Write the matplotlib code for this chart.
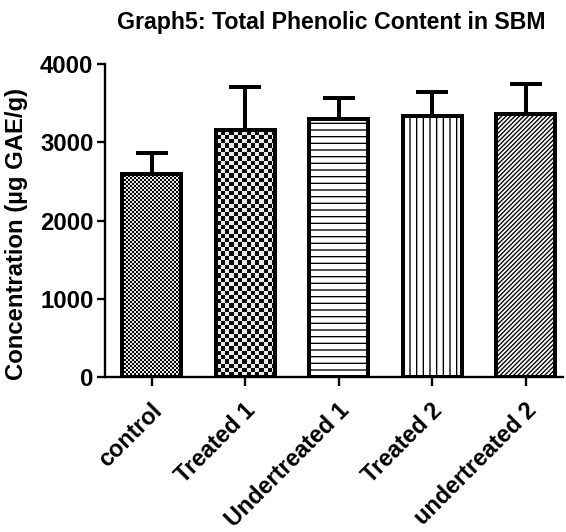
import numpy as np
import matplotlib
matplotlib.use('Agg')
import matplotlib.pyplot as plt
from matplotlib.transforms import ScaledTranslation

groups = ['control', 'Treated 1', 'Undertreated 1', 'Treated 2', 'undertreated 2']
means = [2590, 3160, 3300, 3330, 3360]
sems = [270, 545, 270, 310, 380]
# None -> filled with a checker image instead of a hatch
hatches = [None, None, '--', '||', '//////']
checker_cell = [2.0, 4.3, None, None, None]   # checker square size, pixels

DPI = 80
plt.rcParams['font.family'] = ['Liberation Sans', 'DejaVu Sans']
plt.rcParams['font.weight'] = 'bold'
plt.rcParams['hatch.linewidth'] = 1.2
plt.rcParams['hatch.color'] = 'black'

fig = plt.figure(figsize=(566 / DPI, 532 / DPI), dpi=DPI)
ax = fig.add_axes([105 / 566, 155 / 532, 458 / 566, 313 / 532])

x = np.arange(len(groups))
width = 0.63
edge_lw = 3.6

ax.set_xlim(-0.5, 4.4)
ax.set_ylim(0, 4000)

# error bars (upper only), drawn behind the bars
ax.errorbar(x, means, yerr=[np.zeros(len(sems)), sems], fmt='none',
            ecolor='black', elinewidth=3.6, capsize=14.8, capthick=3.6,
            zorder=1)

bars = ax.bar(x, means, width, facecolor='white', edgecolor='none',
              linewidth=0, zorder=2)
for bar, h in zip(bars, hatches):
    if h:
        bar.set_hatch(h)
        bar.set_edgecolor('black')
        bar.set_linewidth(0)

# checker-pattern fills
for bar, cell in zip(bars, checker_cell):
    if cell is None:
        continue
    x0, y0 = bar.get_x(), bar.get_y()
    x1, y1 = x0 + bar.get_width(), y0 + bar.get_height()
    p0 = ax.transData.transform((x0, y0))
    p1 = ax.transData.transform((x1, y1))
    nx = int(round(p1[0] - p0[0]))
    ny = int(round(p1[1] - p0[1]))
    ii, jj = np.meshgrid(np.arange(nx), np.arange(ny))
    pattern = ((ii // cell).astype(int) + (jj // cell).astype(int)) % 2
    img = ax.imshow(pattern, cmap='gray_r', vmin=-0.1, vmax=1.05,
                    extent=(x0, x1, y0, y1), origin='lower',
                    interpolation='nearest', aspect='auto', zorder=2.2)
    img.set_clip_path(bar)

# bar outlines on top
ax.bar(x, means, width, fill=False, edgecolor='black', linewidth=edge_lw,
       zorder=3)

ax.set_xlim(-0.5, 4.4)
ax.set_ylim(0, 4000)

for side in ['top', 'right']:
    ax.spines[side].set_visible(False)
for side in ['left', 'bottom']:
    ax.spines[side].set_linewidth(2.1)

ax.set_yticks([0, 1000, 2000, 3000, 4000])
ax.tick_params(axis='y', direction='out', length=7.2, width=2.1, pad=3.2,
               labelsize=21.5)
ax.set_xticks(x)
ax.set_xticklabels(groups)
ax.tick_params(axis='x', direction='out', length=8.1, width=2.1, pad=19,
               labelsize=21)
for lab in ax.get_xticklabels():
    lab.set_rotation(45)
    lab.set_ha('right')
    lab.set_va('center')
    lab.set_rotation_mode('anchor')
    lab.set_transform(lab.get_transform() +
                      ScaledTranslation(7 / DPI, 0, fig.dpi_scale_trans))

fig.text(331 / 566, 1 - 29 / 532, 'Graph5: Total Phenolic Content in SBM',
         ha='center', va='baseline', fontsize=20.8, fontweight='bold')
fig.text(17 / 566, 1 - 234 / 532, 'Concentration (µg GAE/g)',
         ha='center', va='center', rotation=90, fontsize=21.5,
         fontweight='bold')

fig.savefig('out.png', dpi=DPI)
